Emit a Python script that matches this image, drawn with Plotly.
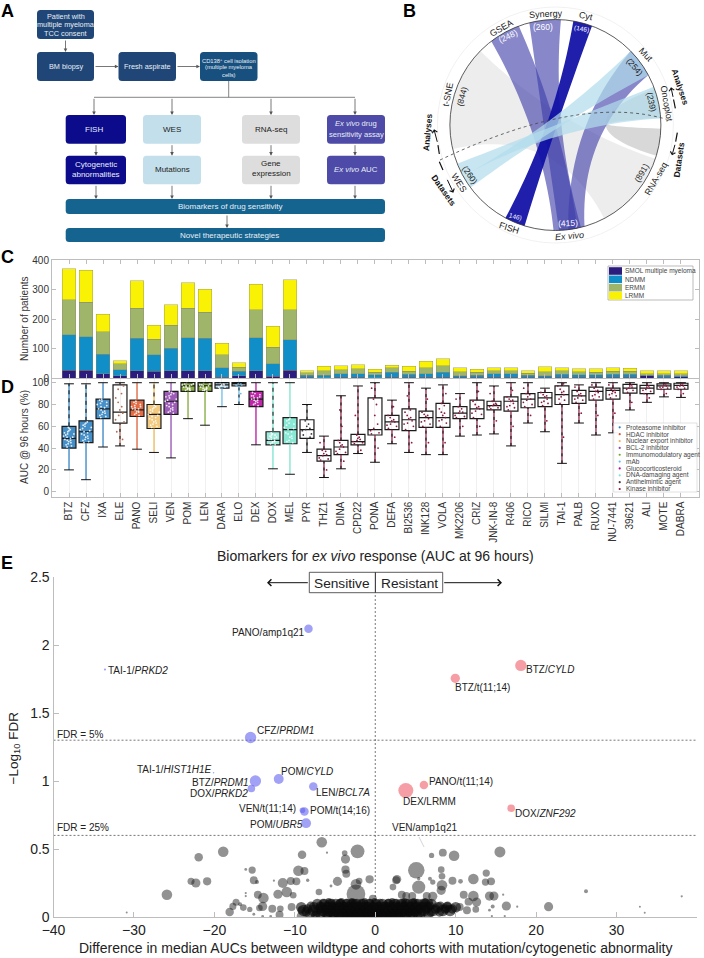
import math
import plotly.graph_objects as go

FONT = "Liberation Sans"
W, H = 704, 958

# ---------- Panel C / D data ----------
drugs = ["BTZ","CFZ","IXA","ELE","PANO","SELI","VEN","POM","LEN","DARA","ELO","DEX","DOX","MEL","PYR","THZ1","DINA",
         "CPD22","PONA","DEFA","BI2536","INK128","VOLA","MK2206","CRIZ","JNK-IN-8","R406","RICO","SILMI","TAI-1",
         "PALB","RUXO","NU-7441","39621","ALI","MOTE","DABRA"]
# cumulative tops of each stacked segment
smol_top = [26,26,15,8,25,23,24,25,25,2,7,25,6,26,2,1,2,2,1,2,2,2,2,2,2,2,2,2,2,3,3,3,3,3,7,3,5]
ndmm_top = [147,140,80,28,135,79,101,137,135,35,23,137,49,129,10,10,14,15,11,19,12,14,20,8,10,14,14,10,8,12,11,11,12,12,9,9,8]
ermm_top = [266,257,156,49,236,131,178,236,223,78,36,232,104,232,18,24,28,32,19,34,23,35,42,22,20,25,25,16,22,25,22,19,23,23,15,15,15]
lrmm_top = [370,365,216,59,329,179,249,323,301,118,52,317,175,333,25,39,42,45,30,44,39,57,66,34,30,35,35,25,38,34,32,32,35,33,24,24,24]

box_lo  = [20,11,41,42,39,36,31,67,61,78,80,43,21,16,36,13,21,35,27,44,36,34,34,51,52,53,42,63,55,26,63,52,54,75,82,87,86.5]
box_q1  = [40,45,67,63,69,58,71,92,92,95,97,78,43,44,49,28,34,43,52,57,56,59,59,67,67,75,74,77,78,80,81,84,85,90.5,90,94,94]
box_med = [49,55,76,73,75,71,83,97,97,98,99,85,47,57,57,33,41,46,57,64,66,68,68,72,76,79,83,85,86,89,88,92,93,95,95,97,97.5]
box_q3  = [60,65,85,98,84,80,92,100,100,100,100,92,55,68,66,39,47,52.6,86,70,76,74,81,78,84,83,87,90,91,97,93,96,95,98.5,97.5,99,99.5]
box_hi  = [99,99,100,100,100,100,100,100,100,100,100,100,100,100,80,51,88,97,100,84,100,95,98,90,100,97,100,100,95,100,98,100,100,100,100,100,100]
drug_class = ["Proteasome inhibitor"]*3 + ["Other"] + ["HDAC inhibitor","Nuclear export inhibitor","BCL-2 inhibitor",
              "Immunomodulatory agent","Immunomodulatory agent","mAb","mAb","Glucocorticosteroid","DNA-damaging agent",
              "DNA-damaging agent","Antihelmintic agent"] + ["Kinase inhibitor"]*22
dark_upper_whisker = ["BTZ","CFZ","ELE","SELI","DOX"]
class_names = ["Proteasome inhibitor","HDAC inhibitor","Nuclear export inhibitor","BCL-2 inhibitor","Immunomodulatory agent",
               "mAb","Glucocorticosteroid","DNA-damaging agent","Antihelmintic agent","Kinase inhibitor"]
class_colors = {"Proteasome inhibitor":"#2b7fc0","HDAC inhibitor":"#e0562a","Nuclear export inhibitor":"#efb64f",
                "BCL-2 inhibitor":"#8f46ad","Immunomodulatory agent":"#7ca52c","mAb":"#6cbce8",
                "Glucocorticosteroid":"#b4099c","DNA-damaging agent":"#79e6cf","Antihelmintic agent":"#3b3b3b",
                "Kinase inhibitor":"#8c1c3f","Other":"#b26a55"}
# individual patient readings
d_samples = [
 [42,44,46,47,49,50,52,53,55,57,59,41,45,48,51,54,56,58,43,47,50,53,30,70,82],
 [46,48,50,52,54,56,58,60,62,64,47,49,51,53,55,57,59,61,63,45,30,75,88],
 [68,70,72,74,76,78,80,82,84,69,71,73,75,77,79,81,83,85,55,95],
 [64,66,70,72,75,78,82,86,90,94,97,55,48],
 [70,71,73,74,75,76,77,78,79,80,82,83,72,74,76,78,81,60,50,92],
 [59,61,63,65,67,69,71,73,75,77,79,60,62,64,66,68,70,72,74,76,78,48,90],
 [72,74,76,78,80,82,84,86,88,90,92,73,75,77,79,81,83,85,87,89,91,60,50],
 [93,94,95,96,97,98,99,100,93,95,97,99,94,96,98,85,78],
 [93,94,95,96,97,98,99,100,92,94,96,98,93,95,97,80,72],
 [95,96,97,98,99,100,96,98,88],
 [97,98,99,100,98,99,90],
 [79,80,81,83,84,85,86,87,88,89,90,91,82,84,86,88,70,60,96],
 [44,45,46,47,48,49,50,51,52,53,54,43,46,48,50,52,35,28,70,85],
 [45,47,49,51,53,55,57,59,61,63,65,67,46,50,54,58,62,66,30,25,78,90],
 [50,53,56,58,60,62,65,52,57],
 [29,31,33,35,37,38,30,34,20,45],
 [35,37,39,41,43,45,47,36,42,28,60,75],
 [44,46,47,48,50,52,45,49,38,70],
 [53,54,56,58,62,70,80,85,40,95],
 [58,60,62,64,66,68,70,61,65,50,78],
 [57,60,63,65,67,70,73,75,62,68,45,88],
 [60,62,65,67,69,71,73,64,70,45,85],
 [60,63,66,68,70,73,76,79,81,65,72,45,90],
 [68,70,72,74,76,78,69,73,60,85],
 [68,71,74,76,78,80,83,72,77,60,92],
 [76,78,79,80,81,83,77,80,65,90],
 [75,77,79,81,83,85,87,78,84,60,93],
 [78,80,82,85,87,89,90,84,70,95],
 [79,81,83,85,87,89,91,82,88,65],
 [81,84,87,89,91,94,97,85,92,50,99],
 [82,84,86,88,90,92,85,89,72,96],
 [85,87,89,91,93,95,88,92,70,98],
 [86,88,90,92,93,94,89,91,72,98],
 [91,93,95,96,98,94,97,82],
 [90,92,94,95,96,97,93,86],
 [94,95,96,97,98,99,96,90],
 [94,95,96,97,98,99,97,90],
]

# ---------- Panel E data ----------
e_blue_label = ["PANO/amp1q21","TAI-1/PRKD2","CFZ/PRDM1","TAI-1/HIST1H1E","BTZ/PRDM1","DOX/PRKD2","POM/CYLD","LEN/BCL7A","VEN/t(11;14)","POM/t(14;16)","POM/UBR5"]
e_blue_x = [-8.3,-33.6,-15.5,-20.1,-14.9,-15.4,-12.0,-7.7,-9.05,-8.8,-8.6]
e_blue_y = [2.12,1.82,1.32,1.06,1.0,0.945,1.015,0.96,0.785,0.775,0.69]
e_blue_n = [90,6,160,3,160,72,122,90,40,90,122]
e_red_label = ["BTZ/CYLD","BTZ/t(11;14)","PANO/t(11;14)","DEX/LRMM","DOX/ZNF292"]
e_red_x = [18.1,9.95,6.05,3.8,16.9]
e_red_y = [1.85,1.755,0.97,0.93,0.80]
e_red_n = [160,108,90,280,72]

e_grey_x = [-6.65,-18.9,-21.95,-2.2,-9.1,-3.8,-3.7,-6,7,8.4,9.8,15.5,-15.3,-16.1,-9.55,-8.8,-3.7,-3.6,5.1,8.2,8.3,13.8,
 -22.9,-22.3,-20.9,-15.1,-14.7,-12.6,-11.5,-10.5,-9.8,-8.4,-4.7,-5.5,-2,-2.4,-0.7,2.7,2.6,6.8,7.15,8.3,5.4,5.4,9.6,10.6,12.2,13.7,14.4,2.2,
 -25.9,-16.1,-16.1,-14.6,-13.9,-12.1,-11,-10.2,-7,-2.4,-0.3,3.3,3.85,4.6,6.4,7.15,8.2,11,12.2,14.2,14.75,15.9,26.2,38.1,32.9,33.5,-30.9,
 21.55,16.3,17.65,16.1,11.4,12.5,14.2,14.6,14.5,12.6,11.6,10.5,-18.1,-17.7,-17.3,-16.4,-15.6,-16.8,-14.4,-14,-12.8,-11.8,-11.9,-13,-14,-15.1,-9.2,-9.2,-10.4]
e_grey_y = [.55,.48,.44,.483,.458,.47,.426,.473,.453,.473,.45,.478,.345,.35,.34,.338,.348,.318,.343,.348,.3,.323,
 .262,.25,.262,.27,.257,.267,.25,.265,.262,.27,.262,.228,.265,.24,.277,.277,.27,.282,.257,.233,.22,.282,.267,.262,.28,.257,.262,.22,
 .164,.176,.154,.164,.14,.167,.184,.16,.184,.17,.135,.164,.154,.154,.154,.152,.196,.164,.154,.154,.154,.164,.19,.152,.076,.032,.034,
 .076,.081,.076,.007,.05,.056,.05,.078,.007,.11,.113,.073,.037,.078,.108,.069,.056,.093,.066,.078,.061,.061,.017,.005,.005,.02,.005,.05,.073]
e_grey_n = [140,140,90,240,90,40,105,6,35,78,140,150,66,10,140,78,85,78,340,55,55,66,
 62,105,85,78,20,6,125,78,78,14,105,10,55,140,85,92,78,20,35,140,220,14,78,28,140,66,78,55,
 140,6,6,78,140,105,140,55,55,440,78,78,78,78,78,105,105,78,140,105,105,6,20,6,5,5,5,
 105,105,6,6,78,55,10,20,6,105,78,78,90,62,62,55,35,20,55,105,78,55,78,10,10,10,105,78,78]

# dense cloud near zero, one list per horizontal reading band
blob_band_y = [.012,.024,.037,.048,.059,.071,.083,.095,.106,.118]
blob_band_n = [110,140,110,170,110,140,90,140,70,45]
blob_band_x = [
 [-7.4,-5.9,-5.1,-4.4,-3.8,-3.2,-2.7,-2.1,-1.6,-1.0,-.5,.1,.6,1.2,1.7,2.3,2.9,3.6,4.4,5.3],
 [-8.1,-6.8,-6.0,-5.2,-4.6,-4.1,-3.5,-3.0,-2.4,-1.9,-1.3,-.8,-.2,.4,.9,1.5,2.0,2.6,3.2,3.9,4.7,5.6,6.6],
 [-8.6,-7.3,-6.4,-5.7,-5.0,-4.3,-3.7,-3.2,-2.7,-2.2,-1.5,-1.1,-.4,.2,.7,1.3,1.8,2.4,3.0,3.5,4.2,4.9,5.8,6.9,8.0],
 [-8.9,-7.7,-6.6,-5.8,-5.3,-4.7,-4.0,-3.4,-2.9,-2.3,-1.7,-1.0,-.6,.1,.8,1.4,2.1,2.7,3.3,3.8,4.5,5.1,6.1,7.2,8.4,9.3],
 [-8.4,-7.0,-6.2,-5.5,-4.9,-4.2,-3.6,-3.1,-2.5,-1.8,-1.2,-.7,0,.5,1.1,1.6,2.2,2.8,3.4,4.0,4.6,5.4,6.3,7.5,8.7,9.6],
 [-9.2,-7.6,-6.7,-5.9,-5.2,-4.5,-3.9,-3.3,-2.6,-2.0,-1.4,-.9,-.3,.3,1.0,1.5,2.2,2.9,3.6,4.3,5.0,5.7,6.5,7.8,8.9,10.0],
 [-8.0,-6.9,-6.1,-5.4,-4.8,-4.0,-3.4,-2.8,-2.2,-1.6,-.9,-.2,.5,1.2,1.9,2.5,3.1,3.7,4.4,5.2,6.0,6.8,8.1,9.0],
 [-7.2,-6.3,-5.6,-4.9,-4.3,-3.5,-2.9,-2.3,-1.5,-.8,.1,.9,1.7,2.4,3.2,3.9,4.6,5.3,6.2,7.0],
 [-6.5,-5.4,-4.4,-3.6,-2.6,-1.7,-.6,.6,1.6,2.6,3.4,4.2,5.0,5.9,6.7],
 [-5.8,-4.2,-2.9,-1.3,-.1,2.1,3.6,4.8,6.2],
]

# ---------- Figure helpers ----------
shapes, annots = [], []
def text(x, y, s, size=10, color="#222", angle=0, anchor="center", bold=False):
    annots.append(dict(x=x, y=y, xref="x4", yref="y4", text=f"<b>{s}</b>" if bold else s, showarrow=False,
                       font=dict(family=FONT, size=size, color=color), textangle=angle,
                       xanchor=anchor, yanchor="middle", borderpad=0, borderwidth=0))
def line(x0, y0, x1, y1, color="#666", width=0.8, dash="solid"):
    shapes.append(dict(type="line", x0=x0, y0=y0, x1=x1, y1=y1, xref="x4", yref="y4",
                       line=dict(color=color, width=width, dash=dash), layer="above"))
def arrow(x0, y0, x1, y1, color="#555", width=0.8, head=2, size=0.9):
    annots.append(dict(x=x1, y=y1, ax=x0, ay=y0, xref="x4", yref="y4", axref="x4", ayref="y4", text="",
                       showarrow=True, arrowcolor=color, arrowwidth=width, arrowhead=head, arrowsize=size, standoff=0))
def rrect(x0, y0, x1, y1, fill, r=3.5):
    p = (f"M{x0+r},{y0} L{x1-r},{y0} Q{x1},{y0} {x1},{y0+r} L{x1},{y1-r} Q{x1},{y1} {x1-r},{y1} "
         f"L{x0+r},{y1} Q{x0},{y1} {x0},{y1-r} L{x0},{y0+r} Q{x0},{y0} {x0+r},{y0} Z")
    shapes.append(dict(type="path", path=p, xref="x4", yref="y4", fillcolor=fill, line=dict(width=0), layer="above"))

# ---------- Panel A ----------
NAVY, MID, DEEP, LBLUE, LGREY, INDIGO, BAR = "#1f4677","#17507f","#0b0b8c","#c2dfeb","#dddddd","#4d4aa8","#15648f"
for (x0,y0,x1,y1,f) in [(37,10,94,39,NAVY),(37,52,94,81,NAVY),(118.5,52,176,81,NAVY),(200,52,257.5,81,MID),
                        (65.7,115,126,143.7,DEEP),(65.7,155.7,126,184.3,DEEP),
                        (143,115,201,143.7,LBLUE),(143,155.7,201,184.3,LBLUE),
                        (242,115,300,143.7,LGREY),(242,155.7,300,184.3,LGREY),
                        (327,115,385,143.7,INDIGO),(327,155.7,385,184.3,INDIGO),
                        (65.7,199,385,214,BAR),(65.7,228,385,242,BAR)]:
    rrect(x0,y0,x1,y1,f)
W_ = "#e8eef5"
for (x,y,s,sz,c) in [(65.5,16,"Patient with",7.3,W_),(65.5,24.5,"multiple myeloma",7.3,W_),(65.5,33,"TCC consent",7.3,W_),
    (65.5,66.5,"BM biopsy",7.3,W_),(147,66,"Fresh aspirate",7.3,W_),
    (229,60,"CD138<sup>+</sup> cell isolation",5.8,W_),(229,67,"(multiple myeloma",5.8,W_),(229,74.5,"cells)",5.8,W_),
    (94,129,"FISH",8,W_),(96,164.5,"Cytogenetic",8,W_),(96,174.5,"abnormalities",8,W_),
    (172,129.5,"WES",8,"#222"),(172,169,"Mutations",8,"#222"),
    (271,129,"RNA-seq",8,"#222"),(271,163,"Gene",8,"#222"),(271,173,"expression",8,"#222"),
    (356,123.5,"<i>Ex vivo</i> drug",7.6,W_),(356,134,"sensitivity assay",7.6,W_),(356,169,"<i>Ex vivo</i> AUC",7.8,W_),
    (230,206,"Biomarkers of drug sensitivity",8,W_),(229,235,"Novel therapeutic strategies",8,W_)]:
    text(x,y,s,sz,c)
arrow(65.5,39,65.5,52); arrow(94,66.5,118.5,66.5); arrow(176,66.5,200,66.5)
line(228.7,81,228.7,97.3); line(94,97.3,355,97.3)
for x in (94,172,271,355):
    arrow(x,97.3,x,115)
for x in (96,172,271,355):
    arrow(x,143.7,x,155.7); arrow(x,184.3,x,199)
arrow(227,214,227,228)

# ---------- Panel B ----------
CX, CY, R = 555.4, 125.0, 105.5
def Z(zx, zy): return 400+zx/3, zy/3
def pol(a, rad=R):
    t = math.radians(a)
    return CX + rad*math.sin(t), CY - rad*math.cos(t)
def qb(p0, c, p1, n=24):
    return [((1-t)**2*p0[0]+2*t*(1-t)*c[0]+t*t*p1[0], (1-t)**2*p0[1]+2*t*(1-t)*c[1]+t*t*p1[1]) for t in [i/n for i in range(n+1)]]
def ribbon(a1, a2, b1, b2, fill, c_out=(CX,CY), c_back=(CX,CY)):
    pts = [pol(a1+(a2-a1)*i/12) for i in range(13)]
    pts += qb(pol(a2),c_out,pol(b1))
    pts += [pol(b1+(b2-b1)*i/12) for i in range(13)]
    pts += qb(pol(b2),c_back,pol(a1))
    p = "M" + " L".join(f"{x:.2f},{y:.2f}" for x,y in pts) + " Z"
    shapes.append(dict(type="path", path=p, xref="x4", yref="y4", fillcolor=fill, line=dict(width=0), layer="above"))
shapes.append(dict(type="circle", x0=CX-118, x1=CX+118, y0=CY-118, y1=CY+118, xref="x4", yref="y4", line=dict(color="#eeeeee",width=0.8), layer="above"))
ribbon(256.8,314.6,108.7,152.4,"rgba(236,236,236,0.95)")
ribbon(70,86,92,107,"rgba(214,214,214,0.95)")
IND = "rgba(62,62,170,0.62)"
ribbon(322.6,339.7,168,181,IND,c_out=Z(490,380),c_back=Z(430,400))
ribbon(345.7,363,166,178,IND,c_out=Z(455,370),c_back=Z(430,370))
ribbon(45.5,61.7,164,173,IND,c_out=Z(540,400),c_back=Z(500,380))
ribbon(9.8,20.3,197,208.3,"rgba(14,14,165,0.93)")
LB = "rgba(178,220,236,0.72)"
ribbon(45.5,61.7,233.6,241,LB)
ribbon(68.8,86.4,241,248.4,LB)
shapes.append(dict(type="circle", x0=CX-R, x1=CX+R, y0=CY-R, y1=CY+R, xref="x4", yref="y4", line=dict(color="#333333",width=0.8), layer="above"))
d = qb(Z(120,480),Z(540,281),Z(800,358),40)
shapes.append(dict(type="path", path="M"+" L".join(f"{x:.2f},{y:.2f}" for x,y in d), xref="x4", yref="y4",
                   line=dict(color="#444",width=0.8,dash="dot"), layer="above"))
for (zx,zy,s,sz,c,ang) in [(305,85,"GSEA",9,"#222",-30),(438,42,"Synergy",9,"#222",-3),(557,47,"Cyt",9,"#222",12),
    (738,165,"Mut",9,"#222",47),(800,312,"Oncoplot",9,"#222",80),(768,537,"RNA-seq",9,"#222",-60),
    (508,708,"<i>Ex vivo</i>",9,"#222",-5),(328,683,"FISH",9,"#222",17),(178,548,"WES",9,"#222",58),(145,283,"t-SNE",9,"#222",-78),
    (325,108,"(248)",8.5,"#fff",-25),(430,80,"(260)",8.5,"#fff",0),(545,88,"(146)",6.5,"#fff",10),(705,200,"(254)",8.5,"#222",50),
    (755,305,"(239)",8.5,"#222",78),(725,520,"(891)",8.5,"#222",-60),(505,670,"(415)",8.5,"#fff",-3),(347,650,"146)",6.5,"#fff",15),
    (210,525,"(260)",8.5,"#222",55),(185,290,"(844)",8.5,"#222",-75),
    (840,262,"<b>Analyses</b>",8.5,"#111",72),(838,478,"<b>Datasets</b>",8.5,"#111",-82),
    (82,395,"<b>Analyses</b>",8.5,"#111",-85),(133,572,"<b>Datasets</b>",8.5,"#111",55)]:
    x,y = Z(zx,zy); text(x,y,s,sz,c,ang)
for (a,b,c,e) in [((826,325),(820,295),(820,295),(813,262)),((832,398),(826,430),(826,430),(816,466)),
                  ((118,462),(113,430),(113,430),(102,388)),((118,485),(140,535),(140,535),(160,578))]:
    line(*Z(*a),*Z(*b),color="#111",width=1.2,dash="dash")
    arrow(*Z(*c),*Z(*e),color="#111",width=1.0,head=4,size=1.0)

# panel letters
for (x,y,s) in [(7,11,"A"),(409,11,"B"),(7,257,"C"),(7,387,"D"),(7,563,"E")]:
    text(x,y,s,18,"#000",bold=True)

# ---------- Traces ----------
fig = go.Figure()
def diff(a, b): return [u-v for u,v in zip(a,b)]
segs = [("SMOL multiple myeloma",smol_top,None,"#2c1c7e"),("NDMM",ndmm_top,smol_top,"#0f8ec8"),
        ("ERMM",ermm_top,ndmm_top,"#9fb56a"),("LRMM",lrmm_top,ermm_top,"#f9f205")]
for name,top,bot,col in segs:
    vals = top if bot is None else diff(top,bot)
    fig.add_trace(go.Bar(x=drugs,y=vals,name=name,marker=dict(color=col,line=dict(color="#8a8a70",width=0.4)),width=0.82,xaxis="x",yaxis="y",showlegend=False))

def rgba(hexc, a):
    return f"rgba({int(hexc[1:3],16)},{int(hexc[3:5],16)},{int(hexc[5:7],16)},{a:.2f})"
for i,dr in enumerate(drugs):
    col = class_colors[drug_class[i]]
    alpha = min(0.88, lrmm_top[i]/250) if lrmm_top[i] > 100 else 0
    wx = [dr,dr,None,dr,dr]
    wy = [box_lo[i],box_q1[i],None,box_q3[i],box_hi[i]]
    fig.add_trace(go.Scatter(x=wx,y=wy,mode="lines",line=dict(color=col,width=1.2),xaxis="x2",yaxis="y2",showlegend=False,hoverinfo="skip"))
    if alpha == 0:
        fig.add_trace(go.Scatter(x=wx,y=wy,mode="lines",line=dict(color="#111",width=1.0,dash="3px,4px"),xaxis="x2",yaxis="y2",showlegend=False,hoverinfo="skip"))
    elif dr in dark_upper_whisker:
        fig.add_trace(go.Scatter(x=[dr,dr],y=[box_q3[i],box_hi[i]],mode="lines",line=dict(color="#111",width=1.0,dash="4px,4px"),xaxis="x2",yaxis="y2",showlegend=False,hoverinfo="skip"))
    fig.add_trace(go.Scatter(x=[dr,dr],y=[box_lo[i],box_hi[i]],mode="markers",marker=dict(symbol="line-ew",size=7,line=dict(color="#111",width=1.0)),xaxis="x2",yaxis="y2",showlegend=False,hoverinfo="skip"))
    fig.add_trace(go.Box(x=[dr],q1=[box_q1[i]],median=[box_med[i]],q3=[box_q3[i]],lowerfence=[box_q1[i]],upperfence=[box_q3[i]],
                         width=0.82,line=dict(color="#1a1a1a",width=1.2),fillcolor=rgba(col,alpha),xaxis="x2",yaxis="y2",showlegend=False,whiskerwidth=0))
    fig.add_trace(go.Box(x=[dr]*len(d_samples[i]),y=d_samples[i],boxpoints="all",jitter=0.85,pointpos=0,width=0.82,
                         line=dict(width=0),fillcolor="rgba(0,0,0,0)",marker=dict(color=col if alpha==0 else "rgba(255,255,255,0.85)",size=1.8),
                         xaxis="x2",yaxis="y2",showlegend=False,hoveron="points"))

fig.add_trace(go.Scatter(x=e_grey_x,y=e_grey_y,mode="markers",xaxis="x3",yaxis="y3",showlegend=False,
    marker=dict(size=e_grey_n,sizemode="area",sizeref=2.5,color="rgba(25,25,25,0.68)",line=dict(width=0))))
for by,bn,bx in zip(blob_band_y,blob_band_n,blob_band_x):
    fig.add_trace(go.Scatter(x=bx,y=[by]*len(bx),mode="markers",xaxis="x3",yaxis="y3",showlegend=False,
        marker=dict(size=[bn]*len(bx),sizemode="area",sizeref=2.5,color="rgba(10,10,10,0.85)",line=dict(width=0))))
fig.add_trace(go.Scatter(x=e_blue_x,y=e_blue_y,text=e_blue_label,mode="markers",xaxis="x3",yaxis="y3",showlegend=False,
    marker=dict(size=e_blue_n,sizemode="area",sizeref=2.5,color="rgba(98,98,240,0.85)",line=dict(width=0))))
fig.add_trace(go.Scatter(x=e_red_x,y=e_red_y,text=e_red_label,mode="markers",xaxis="x3",yaxis="y3",showlegend=False,
    marker=dict(size=e_red_n,sizemode="area",sizeref=2.5,color="rgba(240,92,104,0.85)",line=dict(width=0))))

# ---------- Legends of C and D ----------
shapes.append(dict(type="rect",x0=608,x1=693,y0=266,y1=300,xref="x4",yref="y4",fillcolor="#fff",line=dict(color="#aaa",width=0.8),layer="above"))
for i,(name,_,_,col) in enumerate(segs):
    y=[271,279.3,287.7,295.7][i]
    shapes.append(dict(type="rect",x0=609,x1=622,y0=y-3.8,y1=y+3.8,xref="x4",yref="y4",fillcolor=col,line=dict(width=0),layer="above"))
    text(624.7,y,name,6.5,"#444",anchor="left")
shapes.append(dict(type="rect",x0=613.7,x1=697,y0=423,y1=492,xref="x4",yref="y4",fillcolor="rgba(255,255,255,0.93)",line=dict(color="#ccc",width=0.6),layer="above"))
for i,name in enumerate(class_names):
    y=245+(547+i*20.55)/3
    shapes.append(dict(type="circle",x0=618.6,x1=620.8,y0=y-1.1,y1=y+1.1,xref="x4",yref="y4",fillcolor=class_colors[name],line=dict(width=0),layer="above"))
    text(625.7,y,name,6.5,"#444",anchor="left")

# axis titles
text(24,319,"Number of patients",10,"#333",-90)
text(24,437,"AUC @ 96 hours (%)",10,"#333",-90)
text(13.5,748,"\u2212Log<sub>10</sub> FDR",13.5,"#222",-90)
text(375.5,948,"Difference in median AUCs between wildtype and cohorts with mutation/cytogenetic abnormality",14,"#222")
text(375.5,556,"Biomarkers for <i>ex vivo</i> response (AUC at 96 hours)",14,"#222")

# ---------- Panel E decorations ----------
GD = "#555"
for yv in (1.3,0.6):
    shapes.append(dict(type="line",x0=-40,x1=40,y0=yv,y1=yv,xref="x3",yref="y3",line=dict(color=GD,width=0.8,dash="2px,2px"),layer="below"))
shapes.append(dict(type="line",x0=0,x1=0,y0=0,y1=2.38,xref="x3",yref="y3",line=dict(color=GD,width=0.8,dash="2px,2px"),layer="below"))
shapes.append(dict(type="rect",x0=309.3,x1=375.4,y0=572.3,y1=592.7,xref="x4",yref="y4",line=dict(color="#333",width=0.8),layer="above"))
shapes.append(dict(type="rect",x0=375.4,x1=442.7,y0=572.3,y1=592.7,xref="x4",yref="y4",line=dict(color="#333",width=0.8),layer="above"))
text(342.3,583,"Sensitive",13.7,"#222"); text(409,583,"Resistant",13.7,"#222")
arrow(309.3,582.7,267,582.7,color="#111",width=1.0,head=4,size=1.3)
arrow(442.7,582.7,502,582.7,color="#111",width=1.0,head=4,size=1.3)
L = 10
for (x,y,s,a) in [(305,632.7,"PANO/amp1q21","right"),(108.3,670.7,"TAI-1/<i>PRKD2</i>","left"),(256.7,730,"CFZ/<i>PRDM1</i>","left"),
    (211.7,769,"TAI-1/<i>HIST1H1E</i>","right"),(249.3,782.3,"BTZ/<i>PRDM1</i>","right"),(248.3,793.3,"DOX/<i>PRKD2</i>","right"),
    (280.7,771,"POM/<i>CYLD</i>","left"),(316,792.3,"LEN/<i>BCL7A</i>","left"),(296,808,"VEN/t(11;14)","right"),(310,810.7,"POM/t(14;16)","left"),
    (302.7,824,"POM/<i>UBR5</i>","right"),(56.7,734.3,"FDR = 5%","left"),(56.7,827.7,"FDR = 25%","left"),
    (526.3,669,"BTZ/<i>CYLD</i>","left"),(455.3,687.3,"BTZ/t(11;14)","left"),(429.3,781.7,"PANO/t(11;14)","left"),
    (402.7,801.7,"DEX/LRMM","left"),(514.7,813.3,"DOX/<i>ZNF292</i>","left"),(392,827.7,"VEN/amp1q21","left")]:
    text(x,y,s,L,"#222",anchor=a)
line(419,837,424,847,color="#aaa",width=0.5)

# ---------- Layout ----------
def dom_x(a,b): return [a/W, b/W]
def dom_y(top,bottom): return [1-bottom/H, 1-top/H]
tick_font = dict(family=FONT,size=10,color="#333")
GR = "#bdbdbd"
fig.update_layout(
    template="none",
    width=W, height=H, margin=dict(l=0,r=0,t=0,b=0,pad=0), paper_bgcolor="white", plot_bgcolor="rgba(0,0,0,0)",
    barmode="stack", boxmode="overlay", showlegend=False, shapes=shapes, annotations=annots,
    font=dict(family=FONT),
    xaxis=dict(domain=dom_x(52,699),anchor="y",type="category",categoryorder="array",categoryarray=drugs,range=[-1,37.06],showticklabels=False,
               ticks="inside",ticklen=4,tickcolor=GR,showline=True,linecolor=GR,mirror="ticks",showgrid=False,tickmode="array",tickvals=drugs),
    yaxis=dict(domain=dom_y(260,378),anchor="x",range=[0,400],tickvals=[0,100,200,300,400],ticks="inside",ticklen=4,tickcolor=GR,
               showline=True,linecolor=GR,mirror="ticks",showgrid=False,tickfont=tick_font,zeroline=False),
    xaxis2=dict(domain=dom_x(52,699),anchor="y2",type="category",categoryorder="array",categoryarray=drugs,range=[-1,37.06],
                tickmode="array",tickvals=drugs,ticktext=drugs,tickangle=-90,tickfont=dict(family=FONT,size=10,color="#333"),
                ticks="inside",ticklen=4,tickcolor=GR,showline=True,linecolor=GR,mirror=True,showgrid=True,gridcolor="#f0f0f0",gridwidth=0.6),
    yaxis2=dict(domain=dom_y(379,496.7),anchor="x2",range=[-4.6,103.4],tickvals=[0,20,40,60,80,100],ticks="inside",ticklen=4,tickcolor=GR,
                showline=True,linecolor=GR,mirror="ticks",showgrid=False,tickfont=tick_font,zeroline=False),
    xaxis3=dict(domain=dom_x(53.5,697),anchor="y3",range=[-40,40],tickvals=[-40,-30,-20,-10,0,10,20,30,40],
                ticktext=["\u221240","\u221230","\u221220","\u221210","0","10","20","30","40"],tickangle=0,
                ticks="inside",ticklen=5,tickcolor=GR,showline=True,linecolor=GR,linewidth=1.2,showgrid=False,zeroline=False,
                tickfont=dict(family=FONT,size=14,color="#222")),
    yaxis3=dict(domain=dom_y(577,917),anchor="x3",range=[0,2.5],tickvals=[0,0.5,1,1.5,2,2.5],ticktext=["0","0.5","1","1.5","2","2.5"],
                ticks="inside",ticklen=5,tickcolor=GR,showline=True,linecolor=GR,linewidth=1.2,showgrid=False,zeroline=False,
                tickfont=dict(family=FONT,size=14,color="#222")),
    xaxis4=dict(domain=[0,1],anchor="y4",range=[0,W],visible=False,fixedrange=True),
    yaxis4=dict(domain=[0,1],anchor="x4",range=[H,0],visible=False,fixedrange=True),
)
fig.write_html("out.html", config=dict(displayModeBar=False),
               post_script="document.body.style.margin='0';document.documentElement.style.overflow='hidden';")
